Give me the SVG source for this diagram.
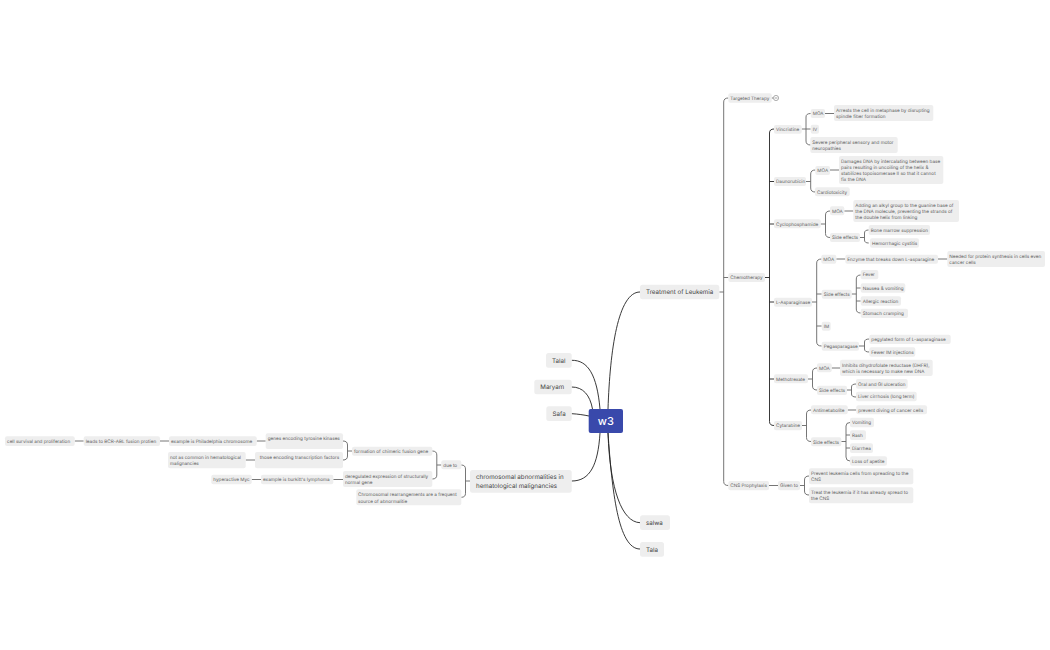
<svg xmlns="http://www.w3.org/2000/svg" width="1050" height="650" viewBox="0 0 1050 650">
<style>
text{font-family:Inter,"Liberation Sans",sans-serif;fill:#5c5c5c;font-size:4.65px;text-rendering:geometricPrecision}
.n rect{fill:#eee}
.m text{font-size:6.2px;fill:#444}
.r text{fill:#fff;font-size:11px;font-weight:500}
.c path{fill:none;stroke:#666;stroke-width:.9}
.c .k{stroke:#222;stroke-width:.9}
</style>
<rect width="1050" height="650" fill="#fff"/>
<g class="c" id="connectors">
<path class="k" d="M608 409C610 350 618 292 640 292"/>
<path class="k" d="M571.7 360.3C588 360 597 375 600 409"/>
<path class="k" d="M571.7 387C583 387 590 395 592.5 409"/>
<path class="k" d="M571.7 413.7C578 414 584 415 589 416"/>
<path class="k" d="M571.7 481C590 481 598 465 600 433"/>
<path class="k" d="M640 522.7C622 522 610 490 608 433"/>
<path class="k" d="M640 549C618 549 612 490 608 433"/>
<path d="M719.3 292H723.7M728.3 98Q723.7 98 723.7 102V481.5Q723.7 485.5 728.3 485.5M723.7 277.5H728.3"/>
<path d="M771.7 98H773"/>
<path class="k" d="M765 277.5H769.5M774 129Q769.5 129 769.5 133V421.5Q769.5 425.5 774 425.5M769.5 181.5H774M769.5 224H774M769.5 302H774M769.5 379H774"/>
<path d="M801.7 129H806M810.7 113.5Q806 113.5 806 117V141Q806 145 810.7 145M806 129H810.7M825 113.5H834"/>
<path d="M806 181.5H810.7M815.3 170Q810.7 170 810.7 174V188Q810.7 192 815.3 192M830 170H839"/>
<path d="M820.7 224H825.5M830 211Q825.5 211 825.5 215V233.5Q825.5 237.5 830 237.5M844.3 211H853.3"/>
<path d="M860 237.5H864.5M868.7 230Q864.5 230 864.5 233V240Q864.5 243 868.7 243"/>
<path d="M812 302H816.7M821.7 259Q816.7 259 816.7 263V342Q816.7 346 821.7 346M816.7 294H821.7M816.7 326H821.7M836.3 259H845.3M938 259H947.3"/>
<path d="M851.7 294H856.3M860.7 275Q856.3 275 856.3 279V309Q856.3 313 860.7 313M856.3 288H860.7M856.3 301H860.7"/>
<path d="M859 346H864.5M869.3 339Q864.5 339 864.5 342V349Q864.5 352 869.3 352"/>
<path d="M808 379H812.5M817 368Q812.5 368 812.5 372V386Q812.5 390 817 390M831.7 368H840"/>
<path d="M847 390H851.5M856 384Q851.5 384 851.5 387V394Q851.5 397 856 397"/>
<path d="M802 425.5H806.5M811 410Q806.5 410 806.5 414V437.5Q806.5 441.5 811 441.5M847.7 410H856.3"/>
<path d="M841.3 441.5H846M850 422.5Q846 422.5 846 426V457Q846 461 850 461M846 435H850M846 448H850"/>
<path d="M769 485.5H778M800 485.5H804.5M809 476Q804.5 476 804.5 480V491Q804.5 495 809 495"/>
<path d="M470 481H465.5M461.3 465Q465.5 465 465.5 469V493.3Q465.5 497.3 461.3 497.3"/>
<path d="M441.3 465H436.8M432.3 451Q436.8 451 436.8 455V475Q436.8 479 432.3 479"/>
<path d="M352 451H347.5M343 441Q347.5 441 347.5 445V456Q347.5 460 343 460"/>
<path d="M343 479.5H333.3M261 479.5H251.7M265.7 441H256.7M169 441H160M83.7 441H74.7M255 460H245.7"/>
<circle cx="776" cy="98" r="2.6" fill="#fff" stroke="#777" stroke-width=".6"/>
<path d="M774.6 98H777.4" style="stroke-width:.6"/>
</g>
<g id="root" class="n r"><rect x="588.7" y="409" width="34.3" height="24" rx="2" style="fill:#3949ab"/><text x="605.8" y="424.8" text-anchor="middle" style="fill:#fff">w3</text></g>
<g id="n-treatment" class="n m"><rect x="640" y="284.7" width="79.3" height="14.6" rx="2.5"/><text x="646" y="294.2">Treatment of Leukemia</text></g>
<g id="n-talal" class="n m"><rect x="546" y="353" width="25.7" height="14.7" rx="2.5"/><text x="552" y="362.5">Talal</text></g>
<g id="n-maryam" class="n m"><rect x="534.3" y="379.7" width="37.4" height="14.6" rx="2.5"/><text x="540.3" y="389.2">Maryam</text></g>
<g id="n-safa" class="n m"><rect x="546.3" y="406.3" width="25.4" height="14.7" rx="2.5"/><text x="552.5" y="415.9">Safa</text></g>
<g id="n-salwa" class="n m"><rect x="640" y="515.3" width="30" height="14.7" rx="2.5"/><text x="646" y="524.8">salwa</text></g>
<g id="n-tala" class="n m"><rect x="640" y="542" width="24" height="14.7" rx="2.5"/><text x="646" y="551.5">Tala</text></g>
<g id="n-chrom" class="n m"><rect x="470" y="470" width="101.7" height="22.7" rx="2.5"/><text y="478.9"><tspan x="476">chromosomal abnormalities in</tspan><tspan x="476" dy="8.7">hematological malignancies</tspan></text></g>
<g id="n-targeted" class="n"><rect x="728.3" y="93.3" width="43.4" height="9.4" rx="2"/><text x="730.3" y="99.7">Targeted Therapy</text></g>
<g id="n-chemo" class="n"><rect x="728.3" y="273" width="36.7" height="9" rx="2"/><text x="730.3" y="279.2">Chemotherapy</text></g>
<g id="n-cns" class="n"><rect x="728.3" y="481" width="40.7" height="9.3" rx="2"/><text x="730.3" y="487.3">CNS Prophylaxis</text></g>
<g id="n-vinc" class="n"><rect x="774" y="125" width="27.7" height="8.7" rx="2"/><text x="776" y="130.8">Vincristine</text></g>
<g id="n-v-moa" class="n"><rect x="810.7" y="109" width="14.3" height="9" rx="2"/><text x="812.7" y="115.3">MOA</text></g>
<g id="n-v-arrests" class="n"><rect x="834" y="105" width="99.3" height="16" rx="2"/><text y="111.7"><tspan x="836">Arrests the cell in metaphase by disrupting</tspan><tspan x="836" dy="6">spindle fiber formation</tspan></text></g>
<g id="n-v-iv" class="n"><rect x="810.7" y="124.7" width="8.3" height="9" rx="2"/><text x="812.7" y="130.9">IV</text></g>
<g id="n-v-severe" class="n"><rect x="810.3" y="137" width="87.4" height="16" rx="2"/><text y="143.7"><tspan x="812.3">Severe peripheral sensory and motor</tspan><tspan x="812.3" dy="6">neuropathies</tspan></text></g>
<g id="n-dauno" class="n"><rect x="774" y="177" width="32" height="9" rx="2"/><text x="776" y="183.3">Daunorubicin</text></g>
<g id="n-d-moa" class="n"><rect x="815.3" y="166" width="14.7" height="9" rx="2"/><text x="817.3" y="172.2">MOA</text></g>
<g id="n-d-dam" class="n"><rect x="839" y="156" width="104.3" height="28" rx="2"/><text y="162.7"><tspan x="841">Damages DNA by intercalating between base</tspan><tspan x="841" dy="6">pairs resulting in uncoiling of the helix &amp;</tspan><tspan x="841" dy="6">stabilizes topoisomerase II so that it cannot</tspan><tspan x="841" dy="6">fix the DNA</tspan></text></g>
<g id="n-d-card" class="n"><rect x="815" y="187.3" width="34.7" height="9" rx="2"/><text x="817" y="193.7">Cardiotoxicity</text></g>
<g id="n-cyclo" class="n"><rect x="774" y="219.3" width="46.7" height="9" rx="2"/><text x="776" y="225.6">Cyclophosphamide</text></g>
<g id="n-c-moa" class="n"><rect x="830" y="206.3" width="14.3" height="9" rx="2"/><text x="832" y="212.7">MOA</text></g>
<g id="n-c-add" class="n"><rect x="853.3" y="200" width="105.7" height="22" rx="2"/><text y="206.7"><tspan x="855.3">Adding an alkyl group to the guanine base of</tspan><tspan x="855.3" dy="6.1">the DNA molecule, preventing the strands of</tspan><tspan x="855.3" dy="6.1">the double helix from linking</tspan></text></g>
<g id="n-c-side" class="n"><rect x="830" y="233" width="30" height="9" rx="2"/><text x="832" y="239.2">Side effects</text></g>
<g id="n-c-bone" class="n"><rect x="868.7" y="225" width="61.3" height="10" rx="2"/><text x="870.7" y="231.7">Bone marrow suppression</text></g>
<g id="n-c-hem" class="n"><rect x="870" y="238.3" width="49" height="9.4" rx="2"/><text x="872" y="244.7">Hemorrhagic cystitis</text></g>
<g id="n-lasp" class="n"><rect x="774" y="297.7" width="38" height="9" rx="2"/><text x="776" y="303.9">L-Asparaginase</text></g>
<g id="n-l-moa" class="n"><rect x="821.3" y="254.7" width="15" height="9" rx="2"/><text x="823.3" y="260.9">MOA</text></g>
<g id="n-l-enz" class="n"><rect x="845.3" y="254.7" width="92.7" height="9" rx="2"/><text x="847.3" y="260.9">Enzyme that breaks down L-asparagine</text></g>
<g id="n-l-need" class="n"><rect x="947.3" y="251" width="97.7" height="16" rx="2"/><text y="257.7"><tspan x="949.3">Needed for protein synthesis in cells even</tspan><tspan x="949.3" dy="6">cancer cells</tspan></text></g>
<g id="n-l-side" class="n"><rect x="821.7" y="289.7" width="30" height="9" rx="2"/><text x="823.7" y="295.9">Side effects</text></g>
<g id="n-l-fever" class="n"><rect x="860.7" y="270" width="17.6" height="9.3" rx="2"/><text x="862.7" y="276.4">Fever</text></g>
<g id="n-l-naus" class="n"><rect x="860.7" y="283.3" width="44.6" height="9.4" rx="2"/><text x="862.7" y="289.7">Nausea &amp; vomiting</text></g>
<g id="n-l-all" class="n"><rect x="860.7" y="296.3" width="40.3" height="9.4" rx="2"/><text x="862.7" y="302.7">Allergic reaction</text></g>
<g id="n-l-stom" class="n"><rect x="860.7" y="308.7" width="47.3" height="9.3" rx="2"/><text x="862.7" y="315">Stomach cramping</text></g>
<g id="n-l-im" class="n"><rect x="821.7" y="321.7" width="9" height="9" rx="2"/><text x="823.7" y="327.9">IM</text></g>
<g id="n-l-peg" class="n"><rect x="821.7" y="341.7" width="37.3" height="9" rx="2"/><text x="823.7" y="347.9">Pegasparagase</text></g>
<g id="n-l-pegy" class="n"><rect x="869.3" y="334.7" width="81.4" height="9.3" rx="2"/><text x="871.3" y="341">pegylated form of L-asparaginase</text></g>
<g id="n-l-few" class="n"><rect x="869.3" y="347.3" width="46" height="9.4" rx="2"/><text x="871.3" y="353.7">Fewer IM injections</text></g>
<g id="n-metho" class="n"><rect x="774" y="374.3" width="34" height="9" rx="2"/><text x="776" y="380.6">Methotrexate</text></g>
<g id="n-m-moa" class="n"><rect x="817" y="363.3" width="14.7" height="9" rx="2"/><text x="819" y="369.6">MOA</text></g>
<g id="n-m-inh" class="n"><rect x="840" y="359.7" width="92.7" height="16.3" rx="2"/><text y="366.7"><tspan x="842">Inhibits dihydrofolate reductase (DHFR),</tspan><tspan x="842" dy="6">which is necessary to make new DNA</tspan></text></g>
<g id="n-m-side" class="n"><rect x="817" y="385.7" width="30" height="9.3" rx="2"/><text x="819" y="392">Side effects</text></g>
<g id="n-m-oral" class="n"><rect x="856" y="379" width="51.7" height="9.7" rx="2"/><text x="858" y="385.6">Oral and GI ulceration</text></g>
<g id="n-m-liv" class="n"><rect x="856" y="391.7" width="60.7" height="9.6" rx="2"/><text x="858" y="398.3">Liver cirrhosis (long term)</text></g>
<g id="n-cyt" class="n"><rect x="774" y="421" width="28" height="9.3" rx="2"/><text x="776" y="427.3">Cytarabine</text></g>
<g id="n-y-anti" class="n"><rect x="811" y="405.3" width="36.7" height="9" rx="2"/><text x="813" y="411.6">Antimetabolite</text></g>
<g id="n-y-prev" class="n"><rect x="856.3" y="405.3" width="70.7" height="9" rx="2"/><text x="858.3" y="411.6">prevent diving of cancer cells</text></g>
<g id="n-y-side" class="n"><rect x="811" y="437.3" width="30.3" height="9" rx="2"/><text x="813" y="443.5">Side effects</text></g>
<g id="n-y-vom" class="n"><rect x="850" y="417.7" width="24" height="9.6" rx="2"/><text x="852" y="424.3">Vomiting</text></g>
<g id="n-y-rash" class="n"><rect x="850" y="430.3" width="16" height="9.7" rx="2"/><text x="852" y="436.9">Rash</text></g>
<g id="n-y-dia" class="n"><rect x="850" y="443.3" width="23" height="9.7" rx="2"/><text x="852" y="449.9">Diarrhea</text></g>
<g id="n-y-loss" class="n"><rect x="850" y="456.3" width="37" height="9.4" rx="2"/><text x="852" y="462.7">Loss of apetite</text></g>
<g id="n-given" class="n"><rect x="778" y="481" width="22" height="9.3" rx="2"/><text x="780" y="487.3">Given to</text></g>
<g id="n-g-prev" class="n"><rect x="809" y="468.3" width="104.3" height="16" rx="2"/><text y="474.7"><tspan x="811">Prevent leukemia cells from spreading to the</tspan><tspan x="811" dy="6">CNS</tspan></text></g>
<g id="n-g-treat" class="n"><rect x="809" y="487.3" width="104.3" height="16" rx="2"/><text y="493.7"><tspan x="811">Treat the leukemia if it has already spread to</tspan><tspan x="811" dy="6">the CNS</tspan></text></g>
<g id="n-dueto" class="n"><rect x="441.3" y="460.3" width="20" height="9" rx="2"/><text x="443.3" y="466.6">due to</text></g>
<g id="n-rearr" class="n"><rect x="356.3" y="489.3" width="105" height="16" rx="2"/><text y="495.8"><tspan x="358">Chromosomal rearrangements are a frequent</tspan><tspan x="358" dy="6.8">source of abnormalitie</tspan></text></g>
<g id="n-form" class="n"><rect x="352" y="446.7" width="80.3" height="9" rx="2"/><text x="354" y="452.9">formation of chimeric fusion gene</text></g>
<g id="n-dereg" class="n"><rect x="343" y="471" width="89.3" height="16" rx="2"/><text y="477.7"><tspan x="345">deregulated expression of structurally</tspan><tspan x="345" dy="6">normal gene</tspan></text></g>
<g id="n-genes" class="n"><rect x="265.7" y="433.3" width="77.3" height="15.7" rx="2"/><text x="267.7" y="440">genes encoding tyrosine kinases</text></g>
<g id="n-those" class="n"><rect x="255" y="452" width="88" height="16.3" rx="2"/><text x="259.7" y="459">those encoding transcription factors</text></g>
<g id="n-not" class="n"><rect x="168" y="452" width="77.7" height="16.3" rx="2"/><text y="459"><tspan x="170">not as common in hematological</tspan><tspan x="170" dy="6">malignancies</tspan></text></g>
<g id="n-exphil" class="n"><rect x="169" y="436.3" width="87.7" height="9.7" rx="2"/><text x="171" y="442.8">example is Philadelphia chromosome</text></g>
<g id="n-leads" class="n"><rect x="83.7" y="436.3" width="76.3" height="9.7" rx="2"/><text x="85.7" y="442.8">leads to BCR-ABL fusion protien</text></g>
<g id="n-cell" class="n"><rect x="5" y="436.3" width="69.7" height="9.7" rx="2"/><text x="7" y="442.8">cell survival and proliferation</text></g>
<g id="n-exbur" class="n"><rect x="261" y="474.7" width="72.3" height="9.6" rx="2"/><text x="263" y="481.2">example is burkitt's lymphoma</text></g>
<g id="n-hyper" class="n"><rect x="211.3" y="474.7" width="40.4" height="9.6" rx="2"/><text x="213.3" y="481.2">hyperactive Myc</text></g>
</svg>
